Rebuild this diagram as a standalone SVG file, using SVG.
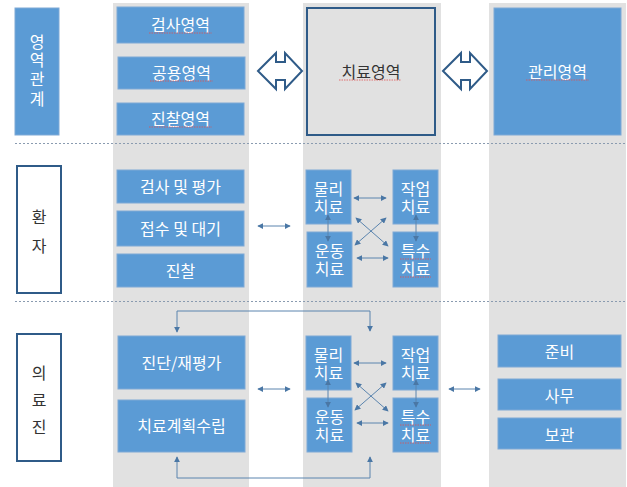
<svg xmlns="http://www.w3.org/2000/svg" width="627" height="487" viewBox="0 0 627 487">
<style>
.col{fill:#e1e1e1}
.b{fill:#5b9bd5;stroke:#7fa9d6;stroke-width:1}
.w{fill:#ffffff;font-family:"Noto Sans CJK KR","Noto Sans",sans-serif;font-size:16px;text-anchor:middle;dominant-baseline:central}
.d{fill:#333333;font-family:"Noto Sans CJK KR","Noto Sans",sans-serif;font-size:16px;text-anchor:middle;dominant-baseline:central}
.lab{fill:#ffffff;stroke:#2f5b88;stroke-width:2}
.sep{stroke:#8a9bb0;stroke-width:1;stroke-dasharray:2,2}
.c{stroke:#5a84ae;stroke-width:1;fill:none}
.dbl{fill:#ffffff;stroke:#2f5b88;stroke-width:2;stroke-linejoin:miter}
.sq{stroke:#e05050;stroke-width:0.8;fill:none;stroke-dasharray:1.5,1}
</style>
<defs>
<marker id="ah" viewBox="0 0 8 8" refX="7" refY="4" markerWidth="6" markerHeight="6" orient="auto-start-reverse" markerUnits="userSpaceOnUse">
<path d="M0,0 L8,4 L0,8 z" fill="#4a77a5"/>
</marker>
</defs>
<rect width="627" height="487" fill="#ffffff"/>
<rect class="col" x="113" y="3" width="136" height="484"/>
<rect class="col" x="303" y="3" width="138" height="484"/>
<rect class="col" x="489" y="3" width="137" height="484"/>
<line class="sep" x1="15" y1="143.5" x2="627" y2="143.5"/>
<line class="sep" x1="15" y1="301.5" x2="627" y2="301.5"/>

<g id="label-area">
<rect class="b" x="15" y="8" width="44" height="127"/>
<text class="w" x="37" y="41"><tspan x="37">영</tspan><tspan x="37" dy="18">역</tspan><tspan x="37" dy="19">관</tspan><tspan x="37" dy="20">계</tspan></text>
</g>
<g id="label-patient">
<rect class="lab" x="17" y="166" width="44" height="127"/>
<text class="d" x="39" y="216"><tspan x="39">환</tspan><tspan x="39" dy="29">자</tspan></text>
</g>
<g id="label-staff">
<rect class="lab" x="17" y="334" width="44" height="127"/>
<text class="d" x="39" y="372"><tspan x="39">의</tspan><tspan x="39" dy="27">료</tspan><tspan x="39" dy="27">진</tspan></text>
</g>

<g id="n-exam"><rect class="b" x="117" y="7" width="127" height="36"/><text class="w" x="180.5" y="24">검사영역</text><path class="sq" d="M149,33 H212"/></g>
<g id="n-common"><rect class="b" x="118" y="57" width="127" height="32"/><text class="w" x="181.5" y="72">공용영역</text><path class="sq" d="M150,81 H213"/></g>
<g id="n-clinic"><rect class="b" x="117" y="103" width="127" height="32"/><text class="w" x="180.5" y="118">진찰영역</text><path class="sq" d="M149,127 H212"/></g>
<g id="n-treat"><rect x="307" y="8" width="128" height="127" fill="#e1e1e1" stroke="#2f5b88" stroke-width="2"/><text class="d" x="371" y="71">치료영역</text><path class="sq" d="M339,80 H401"/></g>
<g id="n-manage"><rect class="b" x="494" y="8" width="127" height="127"/><text class="w" x="557.5" y="71">관리영역</text><path class="sq" d="M526,80 H589"/></g>

<g id="n-p-eval"><rect class="b" x="117" y="170" width="127" height="33"/><text class="w" x="180.5" y="186">검사 및 평가</text></g>
<g id="n-p-recv"><rect class="b" x="117" y="211" width="127" height="35"/><text class="w" x="180.5" y="228">접수 및 대기</text></g>
<g id="n-p-clinic"><rect class="b" x="117" y="254" width="127" height="33"/><text class="w" x="180.5" y="270">진찰</text></g>

<g id="n-p-pt"><rect class="b" x="306" y="170" width="45" height="54"/><text class="w" x="328.5" y="188"><tspan x="328.5">물리</tspan><tspan x="328.5" dy="18">치료</tspan></text></g>
<g id="n-p-ot"><rect class="b" x="393" y="170" width="45" height="54"/><text class="w" x="415.5" y="188"><tspan x="415.5">작업</tspan><tspan x="415.5" dy="18">치료</tspan></text></g>
<g id="n-p-ex"><rect class="b" x="307" y="232" width="45" height="55"/><text class="w" x="329.5" y="250"><tspan x="329.5">운동</tspan><tspan x="329.5" dy="18">치료</tspan></text></g>
<g id="n-p-sp"><rect class="b" x="393" y="232" width="45" height="55"/><text class="w" x="415.5" y="250"><tspan x="415.5">특수</tspan><tspan x="415.5" dy="18">치료</tspan></text><path class="sq" d="M400,259 H431 M400,277 H431"/></g>

<g id="n-s-diag"><rect class="b" x="118" y="336" width="127" height="53"/><text class="w" x="181.5" y="362">진단/재평가</text></g>
<g id="n-s-plan"><rect class="b" x="118" y="400" width="127" height="52"/><text class="w" x="181.5" y="425">치료계획수립</text></g>

<g id="n-s-pt"><rect class="b" x="306" y="336" width="45" height="54"/><text class="w" x="328.5" y="354"><tspan x="328.5">물리</tspan><tspan x="328.5" dy="18">치료</tspan></text></g>
<g id="n-s-ot"><rect class="b" x="393" y="336" width="45" height="54"/><text class="w" x="415.5" y="354"><tspan x="415.5">작업</tspan><tspan x="415.5" dy="18">치료</tspan></text></g>
<g id="n-s-ex"><rect class="b" x="307" y="398" width="45" height="54"/><text class="w" x="329.5" y="416"><tspan x="329.5">운동</tspan><tspan x="329.5" dy="18">치료</tspan></text></g>
<g id="n-s-sp"><rect class="b" x="393" y="398" width="45" height="54"/><text class="w" x="415.5" y="416"><tspan x="415.5">특수</tspan><tspan x="415.5" dy="18">치료</tspan></text><path class="sq" d="M400,425 H431 M400,443 H431"/></g>

<g id="n-prep"><rect class="b" x="498" y="335" width="123" height="32"/><text class="w" x="559.5" y="351">준비</text></g>
<g id="n-office"><rect class="b" x="498" y="379" width="123" height="31"/><text class="w" x="559.5" y="394.5">사무</text></g>
<g id="n-store"><rect class="b" x="498" y="418" width="123" height="31"/><text class="w" x="559.5" y="433.5">보관</text></g>

<g id="connectors">
<path class="dbl" d="M258,71 L276,53 L276,62 L285,62 L285,53 L302,71 L285,89 L285,80 L276,80 L276,89 Z"/>
<path class="dbl" d="M443,71 L461,53 L461,62 L470,62 L470,53 L487,71 L470,89 L470,80 L461,80 L461,89 Z"/>
<line class="c" x1="258" y1="226" x2="290" y2="226" marker-start="url(#ah)" marker-end="url(#ah)"/>
<line class="c" x1="354" y1="198" x2="386" y2="198" marker-start="url(#ah)" marker-end="url(#ah)"/>
<line class="c" x1="357" y1="258" x2="388" y2="258" marker-start="url(#ah)" marker-end="url(#ah)"/>
<line class="c" x1="328" y1="215" x2="328" y2="241" marker-start="url(#ah)" marker-end="url(#ah)"/>
<line class="c" x1="416" y1="215" x2="416" y2="241" marker-start="url(#ah)" marker-end="url(#ah)"/>
<line class="c" x1="356" y1="218" x2="388" y2="246" marker-start="url(#ah)" marker-end="url(#ah)"/>
<line class="c" x1="386" y1="218" x2="355" y2="245" marker-start="url(#ah)" marker-end="url(#ah)"/>
<line class="c" x1="258" y1="389" x2="290" y2="389" marker-start="url(#ah)" marker-end="url(#ah)"/>
<line class="c" x1="354" y1="363" x2="386" y2="363" marker-start="url(#ah)" marker-end="url(#ah)"/>
<line class="c" x1="357" y1="423" x2="388" y2="423" marker-start="url(#ah)" marker-end="url(#ah)"/>
<line class="c" x1="328" y1="380" x2="328" y2="407" marker-start="url(#ah)" marker-end="url(#ah)"/>
<line class="c" x1="416" y1="380" x2="416" y2="407" marker-start="url(#ah)" marker-end="url(#ah)"/>
<line class="c" x1="356" y1="383" x2="388" y2="411" marker-start="url(#ah)" marker-end="url(#ah)"/>
<line class="c" x1="386" y1="383" x2="355" y2="410" marker-start="url(#ah)" marker-end="url(#ah)"/>
<line class="c" x1="449" y1="389" x2="480" y2="389" marker-start="url(#ah)" marker-end="url(#ah)"/>
<path class="c" d="M177,332 V311 H370 V331" marker-start="url(#ah)" marker-end="url(#ah)"/>
<path class="c" d="M177,457 V478 H370 V457" marker-start="url(#ah)" marker-end="url(#ah)"/>
</g>
</svg>
